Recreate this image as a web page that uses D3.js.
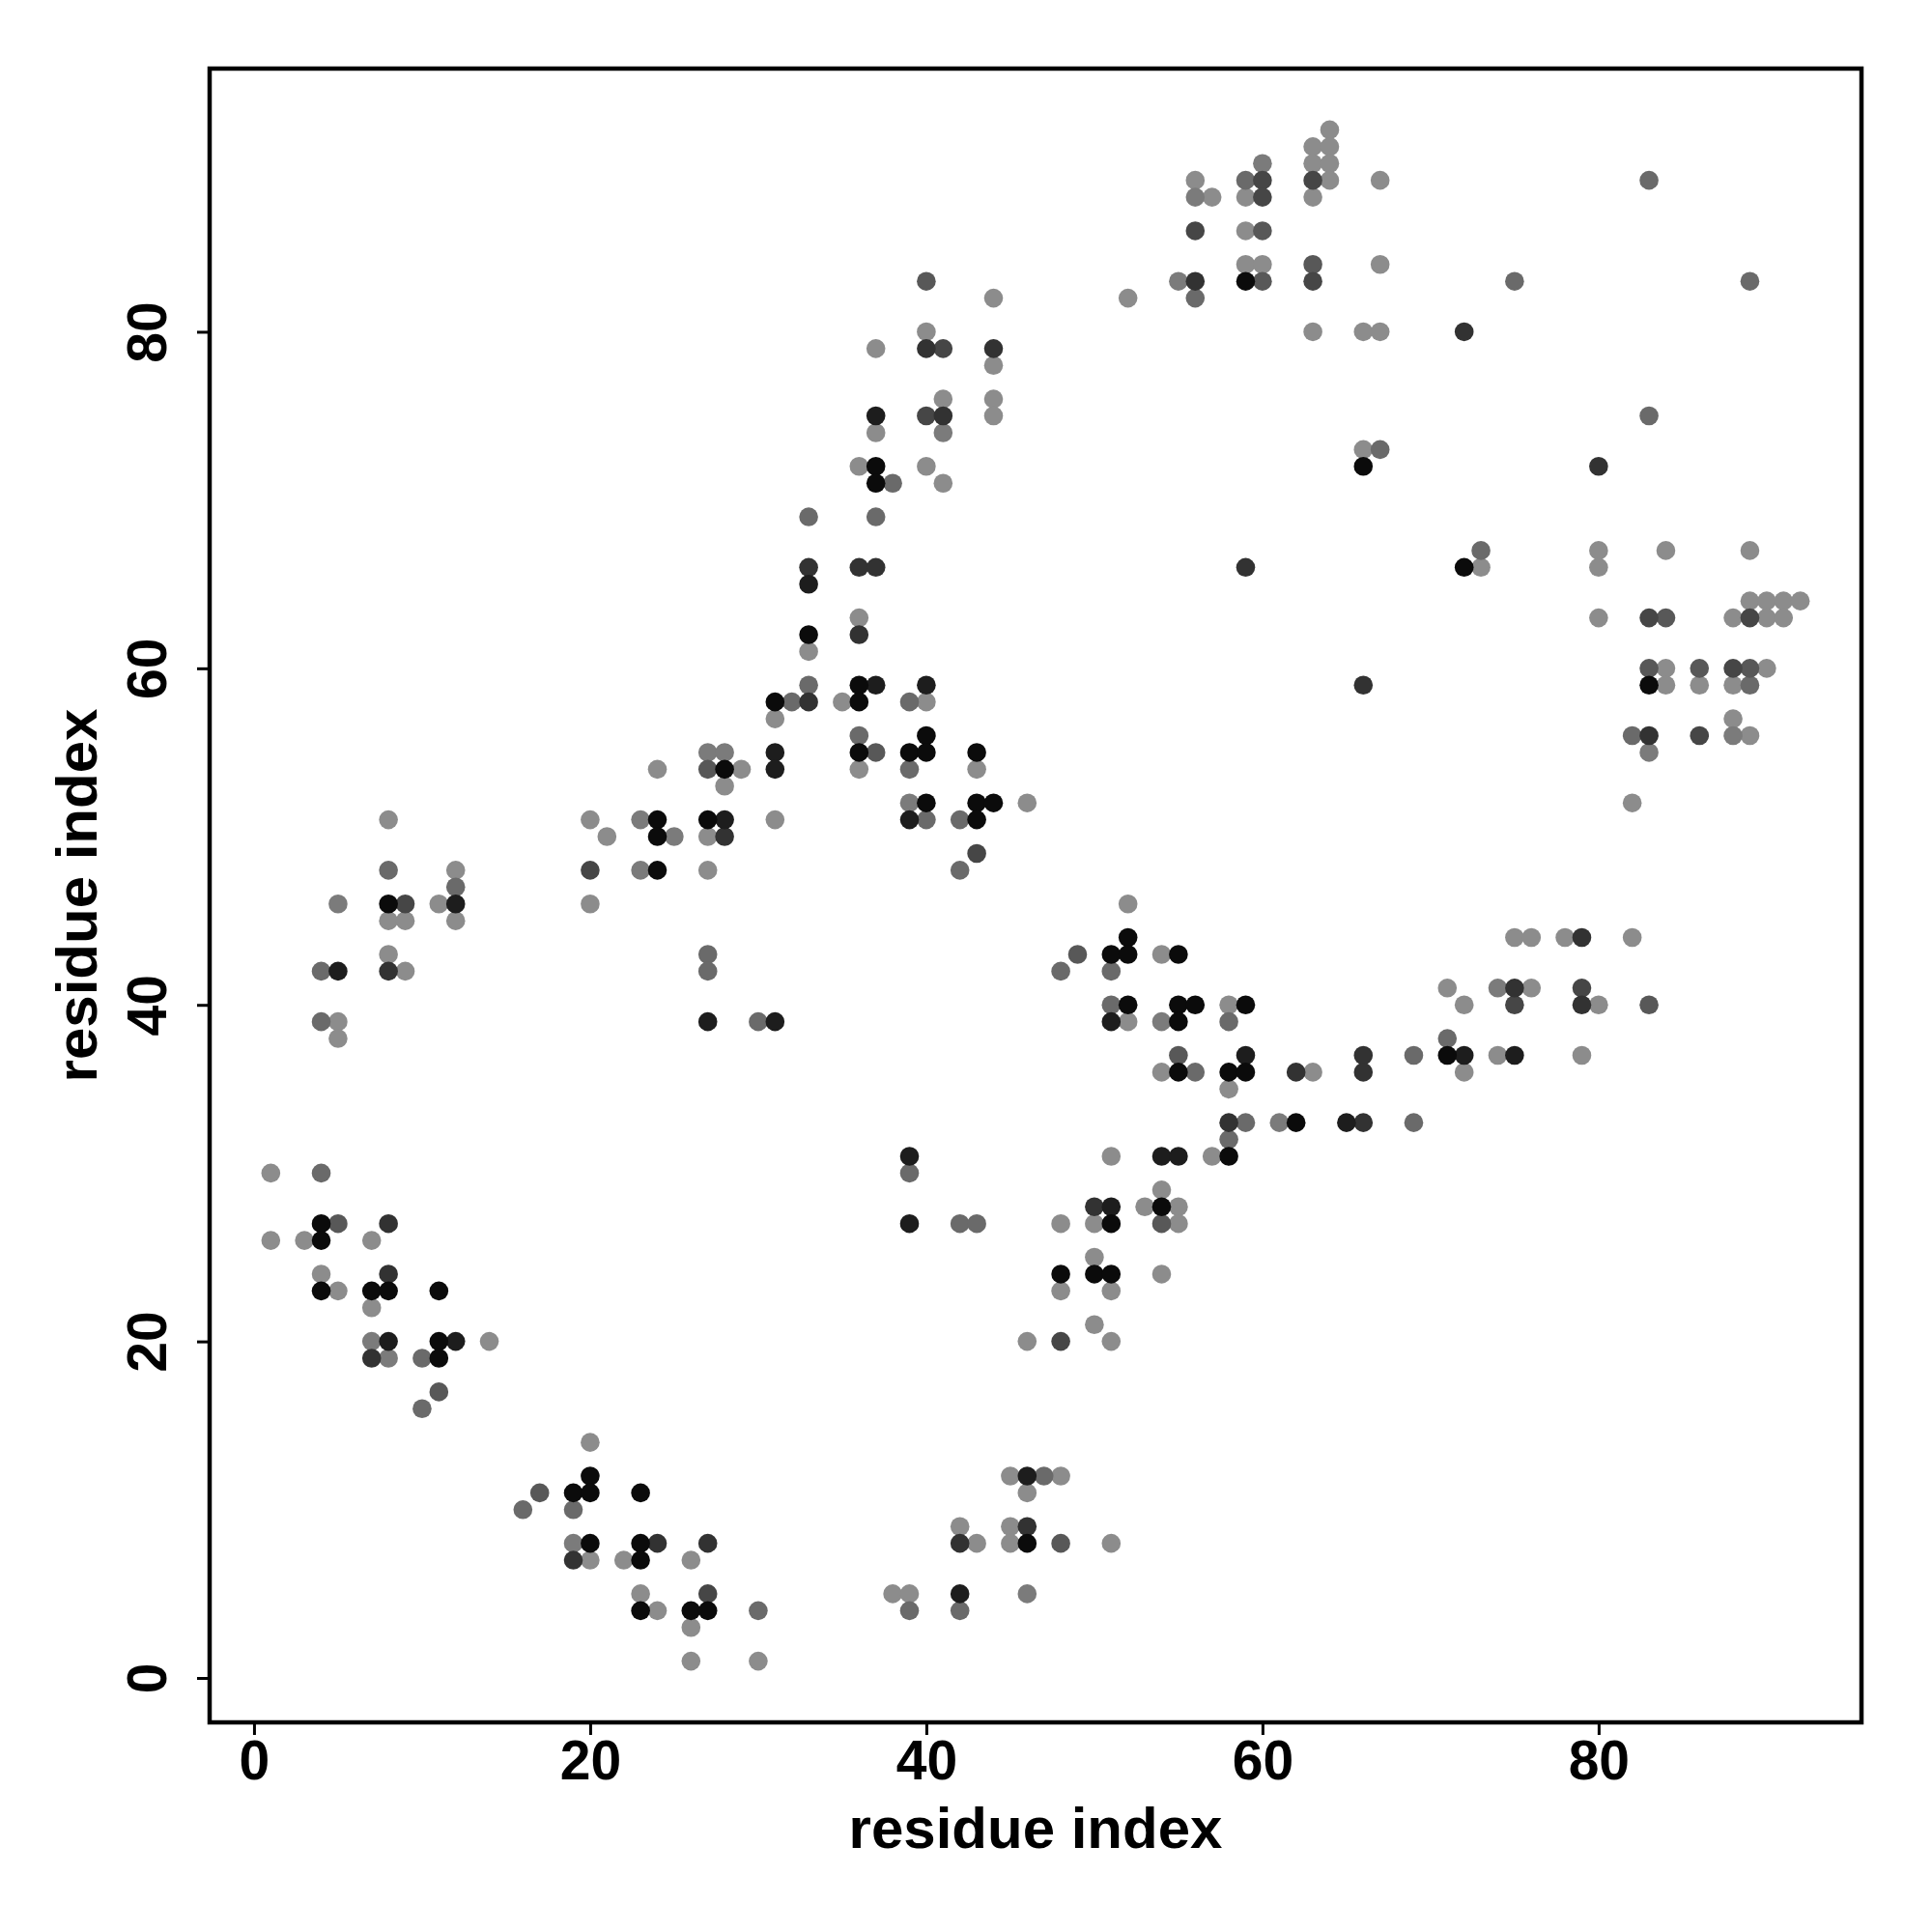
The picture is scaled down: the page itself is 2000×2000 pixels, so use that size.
<!DOCTYPE html>
<html>
<head>
<meta charset="utf-8">
<script src="https://cdn.jsdelivr.net/npm/d3@7"></script>
<style>
  html, body { margin: 0; padding: 0; background: #ffffff; }
  svg { display: block; }
</style>
</head>
<body>
<script>
// ---- data: residue contact pairs [i, j], grouped by contact weight (drawn as gray shade) ----
const contactsW100 = [[4,27],[4,26],[4,23],[7,23],[8,23],[11,23],[11,20],[11,19],[8,46],
  [20,12],[19,11],[20,11],[23,11],[20,8],[23,8],[23,7],[23,4],[26,4],[27,4],[46,8],
  [36,55],[28,54],[24,51],[27,51],[24,50],[24,48],
  [33,62],[36,59],[31,58],[36,58],[40,56],[39,55],[40,55],[43,55],[40,52],[43,52],[44,52],[43,51],
  [37,72],[37,71],
  [52,44],[51,43],[52,43],[55,43],[52,40],[55,40],[56,40],[59,40],[55,39],[55,36],[58,36],[59,36],
  [62,33],[58,31],[54,28],[51,27],[48,24],[50,24],[51,24],
  [71,37],[59,83],[83,59],[66,72],[72,66]];
const contactsW86 = [[8,20],[12,20],[5,42],[12,46],[46,12],[42,5],[31,55],[31,54],[28,51],[27,39],[31,39],
  [33,65],[37,59],[40,59],[39,51],[37,75],[51,39],[59,37],[39,31],[54,31],[55,31],[51,28],[39,27],
  [72,37],[75,37],[65,33]];
const contactsW70 = [[8,27],[8,24],[7,19],[8,42],[24,8],[27,8],[19,7],[46,9],[42,8],[28,50],
  [33,66],[36,66],[37,66],[36,62],[33,58],[40,79],[44,79],[41,75],[62,36],[58,33],[50,28],
  [79,44],[75,41],[79,40],[66,37],[66,36],[66,33],[56,83],[83,56],[72,80],[80,72],[59,66],[66,59]];
const contactsW54 = [[9,46],[27,5],[20,48],[43,49],[41,79],[40,75],[48,20],[79,41],[75,40],
  [60,89],[63,89],[60,88],[56,86],[63,83],[83,63],[89,63],[88,60],[86,56]];
const contactsW40 = [[5,27],[11,17],[17,11],[48,8],[37,55],[27,54],[40,83],[49,43],[55,37],[54,27],
  [83,40],[60,86],[63,84],[60,83],[84,63],[83,60],[86,60],[89,60]];
const contactsW26 = [[4,30],[10,19],[10,16],[8,48],[12,47],[4,42],[4,39],[16,10],[19,10],[30,4],
  [47,12],[39,4],[42,4],[36,56],[27,43],[27,42],[30,39],
  [33,69],[37,69],[33,59],[32,58],[39,58],[39,54],[40,51],[42,51],[42,48],[38,71],
  [48,42],[51,42],[51,40],[58,39],[56,36],[59,33],[58,32],[39,30],[42,27],[43,27],
  [71,38],[69,37],[69,33],[59,89],[56,82],[89,59],[82,56],
  [83,89],[75,83],[89,83],[83,75],[67,73],[73,67]];
const contactsW13 = [[7,20],[8,19],[5,46],[19,8],[46,5],[27,55],[28,55],[23,51],[25,50],[23,48],
  [39,52],[41,74],[54,39],[61,33],[74,41],[60,90],[56,88],[55,83],[88,56],[83,55]];
const contactsW0 = [[1,30],[1,26],[3,26],[7,26],[4,24],[5,23],[7,22],[14,20],
  [8,51],[12,48],[11,46],[8,45],[9,45],[12,45],[8,43],[9,42],[5,39],[5,38],
  [20,14],[20,7],[22,7],[26,7],[23,5],[24,4],[26,3],[26,1],[30,1],
  [45,12],[48,12],[46,11],[42,9],[45,9],[43,8],[45,8],[38,5],[39,5],[51,8],
  [24,54],[29,54],[36,54],[28,53],[20,51],[31,51],[21,50],[27,50],[27,48],[20,46],
  [36,63],[33,61],[35,58],[40,58],[31,57],[43,54],[46,52],
  [44,82],[40,80],[37,79],[44,78],[41,76],[44,76],[44,75],[37,74],[36,72],[40,72],[41,71],
  [52,46],[54,43],[58,40],[52,39],[54,36],[58,35],[51,31],[57,31],[54,29],[53,28],[55,28],
  [48,27],[50,27],[55,27],[50,25],[54,24],[48,23],[51,23],[50,21],[46,20],[51,20],
  [75,44],[76,44],[78,44],[82,44],[71,41],[76,41],[72,40],[80,40],[74,37],[79,37],[63,36],[72,36],
  [64,92],[63,91],[64,91],[63,90],[64,90],[56,89],[64,89],[67,89],[57,88],[59,88],[63,88],
  [59,86],[59,84],[60,84],[67,84],[52,82],[63,80],[66,80],[67,80],
  [80,67],[80,66],[84,67],[89,67],[89,64],[90,64],[91,64],[92,64],[80,63],[88,63],[90,63],[91,63],
  [84,60],[90,60],[84,59],[86,59],[88,59],[88,57],[89,56],[82,52],[66,73],[73,66]];

const seriesWeights = [0, 0.13, 0.26, 0.40, 0.54, 0.70, 0.86, 1.0];
const seriesData = [contactsW0, contactsW13, contactsW26, contactsW40, contactsW54, contactsW70, contactsW86, contactsW100];
const xTicks = [0, 20, 40, 60, 80];
const yTicks = [0, 20, 40, 60, 80];
const xLabel = "residue index";
const yLabel = "residue index";

// ---- layout ----
const W = 2000, H = 2000;
const box = { left: 217, right: 1927, top: 71, bottom: 1783 };
const FONT = "'Liberation Sans', Arial, Helvetica, sans-serif";

const points = [];
seriesData.forEach((arr, k) => arr.forEach(p => points.push({ i: p[0], j: p[1], w: seriesWeights[k] })));

const allI = points.map(d => d.i), allJ = points.map(d => d.j);
const pad = (ext) => { const r = ext[1] - ext[0]; return [ext[0] - 0.04 * r, ext[1] + 0.04 * r]; };
const ext = [Math.min(d3.min(allI), d3.min(allJ)), Math.max(d3.max(allI), d3.max(allJ))];

const x = d3.scaleLinear().domain(pad(ext)).range([box.left, box.right]);
const y = d3.scaleLinear().domain(pad(ext)).range([box.bottom, box.top]);
const shade = d3.scaleLinear().domain([0, 1]).range(["#8c8c8c", "#0b0b0b"]);

const svg = d3.select("body").append("svg")
  .attr("width", W).attr("height", H)
  .style("background", "#ffffff");

// points
svg.append("g").selectAll("circle")
  .data(points)
  .join("circle")
  .attr("cx", d => x(d.i))
  .attr("cy", d => y(d.j))
  .attr("r", 9.8)
  .attr("fill", d => shade(d.w));

// box
svg.append("rect")
  .attr("x", box.left).attr("y", box.top)
  .attr("width", box.right - box.left).attr("height", box.bottom - box.top)
  .attr("fill", "none").attr("stroke", "#000").attr("stroke-width", 4.5);

// x axis
const gx = svg.append("g")
  .attr("transform", `translate(0,${box.bottom})`)
  .call(d3.axisBottom(x).tickValues(xTicks).tickSize(13).tickPadding(6).tickFormat(d3.format("d")));
gx.select(".domain").remove();
gx.selectAll(".tick line").attr("stroke", "#000").attr("stroke-width", 3);
gx.selectAll(".tick text")
  .attr("font-family", FONT).attr("font-size", 57).attr("font-weight", "bold").attr("fill", "#000");

// y axis
const gy = svg.append("g")
  .attr("transform", `translate(${box.left},0)`)
  .call(d3.axisLeft(y).tickValues(yTicks).tickSize(13).tickFormat(d3.format("d")));
gy.select(".domain").remove();
gy.selectAll(".tick line").attr("stroke", "#000").attr("stroke-width", 3);
gy.selectAll(".tick text").remove();
gy.selectAll(".tick").append("text")
  .attr("transform", "translate(-45,0) rotate(-90)")
  .attr("text-anchor", "middle")
  .attr("font-family", FONT).attr("font-size", 57).attr("font-weight", "bold").attr("fill", "#000")
  .text(d => d3.format("d")(d));

// axis titles
svg.append("text")
  .attr("x", (box.left + box.right) / 2).attr("y", 1913)
  .attr("text-anchor", "middle")
  .attr("font-family", FONT).attr("font-size", 60).attr("font-weight", "bold")
  .text(xLabel);
svg.append("text")
  .attr("transform", `translate(100,${(box.top + box.bottom) / 2}) rotate(-90)`)
  .attr("text-anchor", "middle")
  .attr("font-family", FONT).attr("font-size", 60).attr("font-weight", "bold")
  .text(yLabel);
</script>
</body>
</html>
